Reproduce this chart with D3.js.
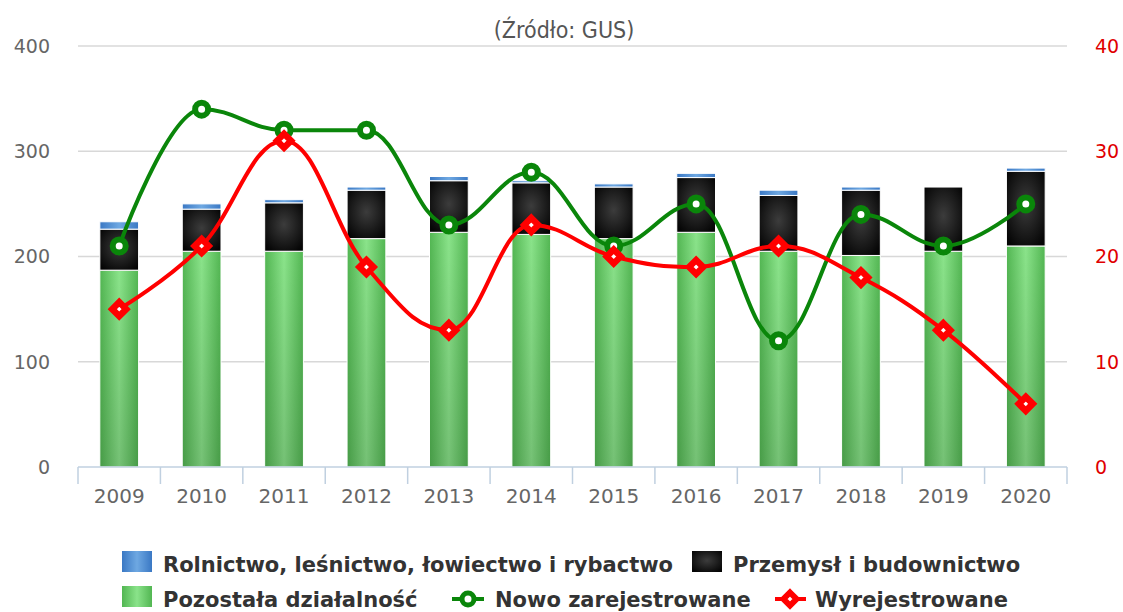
<!DOCTYPE html>
<html>
<head>
<meta charset="utf-8">
<script src="https://cdn.jsdelivr.net/npm/d3@7"></script>
<style>
  body { margin: 0; background: #fff; }
  svg { display: block; }
</style>
</head>
<body>
<div id="chart"></div>
<script>
const years = ["2009", "2010", "2011", "2012", "2013", "2014", "2015", "2016", "2017", "2018", "2019", "2020"];
const rolnictwo = [7, 5, 3, 3, 4, 2, 3, 4, 5, 3, 0, 3];
const przemysl = [39, 40, 46, 46, 49, 49, 49, 52, 53, 62, 61, 71];
const pozostala = [187, 205, 205, 217, 223, 221, 217, 223, 205, 201, 205, 210];
const nowo = [21, 34, 32, 32, 23, 28, 21, 25, 12, 24, 21, 25];
const wyrejestrowane = [15, 21, 31, 19, 13, 23, 20, 19, 21, 18, 13, 6];
const leftTicks = [0, 100, 200, 300, 400];
const rightTicks = [0, 10, 20, 30, 40];

const width = 1123, height = 612;
const plotLeft = 78, plotRight = 1067, plotTop = 46, plotBottom = 467;

const svg = d3.select("#chart").append("svg")
  .attr("width", width)
  .attr("height", height);

const defs = svg.append("defs");

// bar gradients
const gGreen = defs.append("linearGradient").attr("id", "gGreen").attr("x1", 0).attr("x2", 1).attr("y1", 0).attr("y2", 0);
gGreen.append("stop").attr("offset", "0%").attr("stop-color", "#52b652");
gGreen.append("stop").attr("offset", "50%").attr("stop-color", "#8ae38a");
gGreen.append("stop").attr("offset", "100%").attr("stop-color", "#52b652");

const gShade = defs.append("linearGradient").attr("id", "gShade").attr("x1", 0).attr("x2", 0).attr("y1", 0).attr("y2", 1);
gShade.append("stop").attr("offset", "0%").attr("stop-color", "#000").attr("stop-opacity", 0);
gShade.append("stop").attr("offset", "100%").attr("stop-color", "#000").attr("stop-opacity", 0.15);

const gBlack = defs.append("radialGradient").attr("id", "gBlack").attr("cx", "50%").attr("cy", "45%").attr("r", "65%");
gBlack.append("stop").attr("offset", "0%").attr("stop-color", "#3c3c3c");
gBlack.append("stop").attr("offset", "100%").attr("stop-color", "#050505");

const gBlue = defs.append("linearGradient").attr("id", "gBlue").attr("x1", 0).attr("x2", 1).attr("y1", 0).attr("y2", 0);
gBlue.append("stop").attr("offset", "0%").attr("stop-color", "#3a78c4");
gBlue.append("stop").attr("offset", "50%").attr("stop-color", "#6ea8e2");
gBlue.append("stop").attr("offset", "100%").attr("stop-color", "#3a78c4");

const x = d3.scaleBand().domain(years).range([plotLeft, plotRight]).padding(0);
const y = d3.scaleLinear().domain([0, 400]).range([plotBottom, plotTop]);
const y2 = d3.scaleLinear().domain([0, 40]).range([plotBottom, plotTop]);
const barW = x.bandwidth() * 0.47;

// subtitle
svg.append("text")
  .attr("x", 564)
  .attr("y", 38)
  .attr("text-anchor", "middle")
  .attr("font-family", "'Liberation Sans Narrow', 'DejaVu Sans Condensed', sans-serif")
  .attr("font-size", "23px")
  .attr("fill", "#555")
  .text("(Źródło: GUS)");

// gridlines + left labels
svg.append("g")
  .selectAll("line")
  .data(leftTicks.filter(d => d > 0))
  .join("line")
  .attr("x1", plotLeft).attr("x2", plotRight)
  .attr("y1", d => y(d)).attr("y2", d => y(d))
  .attr("stroke", "#d8d8d8")
  .attr("stroke-width", 1.5);

svg.append("g")
  .selectAll("text")
  .data(leftTicks)
  .join("text")
  .attr("x", 50)
  .attr("y", d => y(d))
  .attr("dy", "0.36em")
  .attr("text-anchor", "end")
  .attr("font-family", "'DejaVu Sans', sans-serif")
  .attr("font-size", "19px")
  .attr("fill", "#666")
  .text(d => d);

svg.append("g")
  .selectAll("text")
  .data(rightTicks)
  .join("text")
  .attr("x", 1095)
  .attr("y", d => y2(d))
  .attr("dy", "0.36em")
  .attr("font-family", "'DejaVu Sans', sans-serif")
  .attr("font-size", "19px")
  .attr("fill", "#e00000")
  .text(d => d);

// stacked bars
const stackData = years.map((yr, i) => ({
  year: yr, pozostala: pozostala[i], przemysl: przemysl[i], rolnictwo: rolnictwo[i]
}));
const keys = ["pozostala", "przemysl", "rolnictwo"];
const fills = { pozostala: "url(#gGreen)", przemysl: "url(#gBlack)", rolnictwo: "url(#gBlue)" };
const series = d3.stack().keys(keys)(stackData);

const bars = svg.append("g");
series.forEach(s => {
  bars.append("g")
    .selectAll("rect")
    .data(s.filter(d => d[1] - d[0] > 0))
    .join("rect")
    .attr("x", d => x(d.data.year) + (x.bandwidth() - barW) / 2)
    .attr("y", d => y(d[1]))
    .attr("width", barW)
    .attr("height", d => y(d[0]) - y(d[1]))
    .attr("fill", fills[s.key])
    .attr("stroke", "#fff")
    .attr("stroke-width", 1);
});
// slight vertical shading on green segments
bars.append("g")
  .selectAll("rect")
  .data(series[0])
  .join("rect")
  .attr("x", d => x(d.data.year) + (x.bandwidth() - barW) / 2 + 0.5)
  .attr("y", d => y(d[1]) + 0.5)
  .attr("width", barW - 1)
  .attr("height", d => y(d[0]) - y(d[1]) - 1)
  .attr("fill", "url(#gShade)");

// x axis
const axis = svg.append("g");
axis.append("line")
  .attr("x1", plotLeft).attr("x2", plotRight)
  .attr("y1", plotBottom).attr("y2", plotBottom)
  .attr("stroke", "#c0d0e0").attr("stroke-width", 1.5);
axis.selectAll("line.tick")
  .data(years.map(d => x(d)).concat([x.range()[1]]))
  .join("line")
  .attr("class", "tick")
  .attr("x1", d => d).attr("x2", d => d)
  .attr("y1", plotBottom).attr("y2", plotBottom + 17)
  .attr("stroke", "#c0d0e0").attr("stroke-width", 1.5);
axis.selectAll("text")
  .data(years)
  .join("text")
  .attr("x", d => x(d) + x.bandwidth() / 2)
  .attr("y", 503)
  .attr("text-anchor", "middle")
  .attr("font-family", "'DejaVu Sans', sans-serif")
  .attr("font-size", "20px")
  .attr("fill", "#666")
  .text(d => d);

// Highcharts-like spline
function splinePath(pts) {
  const s = 1.5, den = 2.5;
  const ctrl = pts.map(() => null);
  pts.forEach((p, i) => {
    const last = pts[i - 1], next = pts[i + 1];
    if (!last || !next) return;
    let lx = (s * p[0] + last[0]) / den, ly = (s * p[1] + last[1]) / den;
    let rx = (s * p[0] + next[0]) / den, ry = (s * p[1] + next[1]) / den;
    let corr = 0;
    if (rx !== lx) corr = ((ry - ly) * (rx - p[0])) / (rx - lx) + p[1] - ry;
    ly += corr; ry += corr;
    if (ly > last[1] && ly > p[1]) { ly = Math.max(last[1], p[1]); ry = 2 * p[1] - ly; }
    else if (ly < last[1] && ly < p[1]) { ly = Math.min(last[1], p[1]); ry = 2 * p[1] - ly; }
    if (ry > next[1] && ry > p[1]) { ry = Math.max(next[1], p[1]); ly = 2 * p[1] - ry; }
    else if (ry < next[1] && ry < p[1]) { ry = Math.min(next[1], p[1]); ly = 2 * p[1] - ry; }
    ctrl[i] = { lx, ly, rx, ry };
  });
  let d = `M${pts[0][0]},${pts[0][1]}`;
  for (let i = 1; i < pts.length; i++) {
    const a = ctrl[i - 1], b = ctrl[i], p = pts[i], q = pts[i - 1];
    d += `C${a ? a.rx : q[0]},${a ? a.ry : q[1]},${b ? b.lx : p[0]},${b ? b.ly : p[1]},${p[0]},${p[1]}`;
  }
  return d;
}

const cx = d => x(d) + x.bandwidth() / 2;
const greenPts = years.map((yr, i) => [cx(yr), y2(nowo[i])]);
const redPts = years.map((yr, i) => [cx(yr), y2(wyrejestrowane[i])]);
const green = "#0a860a", red = "#ff0000";
const diamond = r => `M0,${-r}L${r},0L0,${r}L${-r},0Z`;

// green line
svg.append("path")
  .attr("d", splinePath(greenPts))
  .attr("fill", "none").attr("stroke", green).attr("stroke-width", 4);
svg.append("g")
  .selectAll("circle")
  .data(greenPts)
  .join("circle")
  .attr("cx", d => d[0]).attr("cy", d => d[1])
  .attr("r", 6.5)
  .attr("fill", "#fff").attr("stroke", green).attr("stroke-width", 6);

// red line
svg.append("path")
  .attr("d", splinePath(redPts))
  .attr("fill", "none").attr("stroke", red).attr("stroke-width", 4);
svg.append("g")
  .selectAll("path")
  .data(redPts)
  .join("path")
  .attr("transform", d => `translate(${d[0]},${d[1]})`)
  .attr("d", diamond(7))
  .attr("fill", "#fff").attr("stroke", red).attr("stroke-width", 6.5)
  .attr("stroke-linejoin", "miter");

// legend
const legend = svg.append("g")
  .attr("font-family", "'DejaVu Sans', sans-serif")
  .attr("font-size", "21px")
  .attr("font-weight", "bold")
  .attr("fill", "#333");

function legendSquare(x0, yb, fill, label, tx) {
  legend.append("rect").attr("x", x0).attr("y", yb - 21).attr("width", 30).attr("height", 21).attr("fill", fill);
  legend.append("text").attr("x", tx).attr("y", yb).text(label);
}
legendSquare(122, 572, "url(#gBlue)", "Rolnictwo, leśnictwo, łowiectwo i rybactwo", 163);
legendSquare(692, 572, "url(#gBlack)", "Przemysł i budownictwo", 733);
legendSquare(122, 607, "url(#gGreen)", "Pozostała działalność", 163);

legend.append("line").attr("x1", 452).attr("x2", 484).attr("y1", 599).attr("y2", 599)
  .attr("stroke", green).attr("stroke-width", 4);
legend.append("circle").attr("cx", 468).attr("cy", 599).attr("r", 6)
  .attr("fill", "#fff").attr("stroke", green).attr("stroke-width", 5);
legend.append("text").attr("x", 495).attr("y", 607).text("Nowo zarejestrowane");

legend.append("line").attr("x1", 775).attr("x2", 806).attr("y1", 599).attr("y2", 599)
  .attr("stroke", red).attr("stroke-width", 4);
legend.append("path").attr("transform", "translate(790,599)").attr("d", diamond(6.5))
  .attr("fill", "#fff").attr("stroke", red).attr("stroke-width", 6);
legend.append("text").attr("x", 815).attr("y", 607).text("Wyrejestrowane");
</script>
</body>
</html>
